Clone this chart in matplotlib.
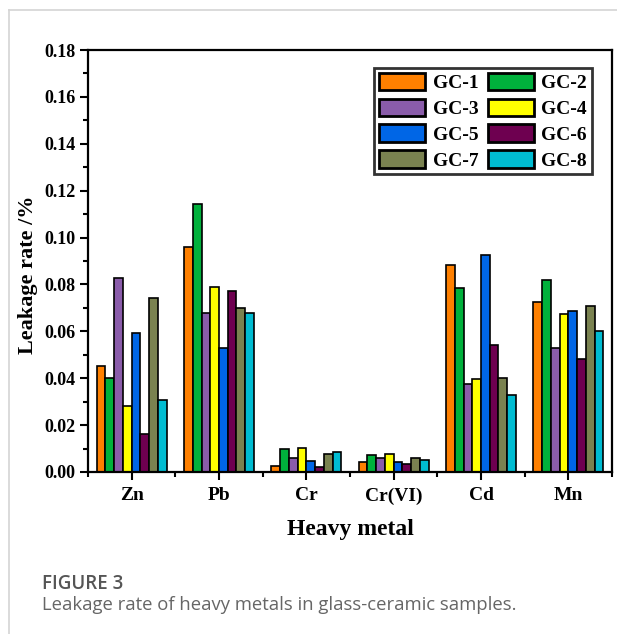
import numpy as np
import matplotlib
matplotlib.use("Agg")
import matplotlib.pyplot as plt
from matplotlib.lines import Line2D
from matplotlib.ticker import MultipleLocator, FixedLocator

categories = ["Zn", "Pb", "Cr", "Cr(VI)", "Cd", "Mn"]
series_names = ["GC-1", "GC-2", "GC-3", "GC-4", "GC-5", "GC-6", "GC-7", "GC-8"]
gc1 = [0.0452, 0.0960, 0.0026, 0.0041, 0.0882, 0.0724]
gc2 = [0.0401, 0.1141, 0.0097, 0.0073, 0.0785, 0.0818]
gc3 = [0.0828, 0.0680, 0.0060, 0.0061, 0.0377, 0.0529]
gc4 = [0.0280, 0.0790, 0.0101, 0.0078, 0.0396, 0.0672]
gc5 = [0.0593, 0.0527, 0.0049, 0.0041, 0.0926, 0.0686]
gc6 = [0.0164, 0.0774, 0.0020, 0.0036, 0.0542, 0.0484]
gc7 = [0.0743, 0.0700, 0.0078, 0.0061, 0.0401, 0.0707]
gc8 = [0.0309, 0.0680, 0.0085, 0.0051, 0.0327, 0.0603]
series = [gc1, gc2, gc3, gc4, gc5, gc6, gc7, gc8]
colors = ["#FF8000", "#00B13C", "#8A5CAA", "#FFFF00", "#0066E6", "#6E0050", "#7A8250", "#00BCD2"]

plt.rcParams['font.family'] = ['Liberation Serif', 'DejaVu Serif']
plt.rcParams['font.weight'] = 'bold'

fig = plt.figure(figsize=(6.17, 6.34), dpi=100)
ax = fig.add_axes([88/617, 1-472/634, (612-88)/617, (472-50)/634])

x = np.arange(len(categories))
w = 0.1
handles = []
for i, (vals, c, name) in enumerate(zip(series, colors, series_names)):
    b = ax.bar(x + (i - 3.5) * w, vals, width=w, color=c, edgecolor='black',
               linewidth=1.2, label=name, zorder=2)
    handles.append(b)

ax.set_xlim(-0.5, 5.5)
ax.set_ylim(0, 0.18)
ax.set_xticks(x)
ax.set_xticklabels(categories, fontsize=14, fontweight='bold')
ax.xaxis.set_minor_locator(FixedLocator(np.arange(-0.5, 5.6, 1.0)))
ax.set_yticks(np.arange(0, 0.181, 0.02))
ax.set_yticklabels([f"{v:.2f}" for v in np.arange(0, 0.181, 0.02)], fontsize=13, fontweight='bold')
ax.yaxis.set_minor_locator(MultipleLocator(0.01))
ax.tick_params(axis='both', which='major', direction='out', length=6, width=1.5, pad=3)
ax.tick_params(axis='both', which='minor', direction='out', length=3.5, width=1.5)
ax.tick_params(axis='x', which='major', pad=5)
for s in ax.spines.values():
    s.set_linewidth(1.6)

ax.set_xlabel("Heavy metal", fontsize=17, fontweight='bold')
ax.xaxis.set_label_coords(0.5, -(530 - 472) / 422, transform=ax.transAxes)
ax.xaxis.label.set_va('center')
ax.set_ylabel("Leakage rate /%", fontsize=16, fontweight='bold')
ax.yaxis.set_label_coords((28 - 88) / 524, (472 - 275) / 422)
ax.yaxis.label.set_va('center')

order = [0, 2, 4, 6, 1, 3, 5, 7]
leg = ax.legend([handles[k] for k in order], [series_names[k] for k in order],
                ncol=2, loc='upper right', bbox_to_anchor=((592 - 88) / 524, (472 - 68) / 422),
                fontsize=14, frameon=True, fancybox=False, edgecolor='black',
                handlelength=2.35, handleheight=1.0, handletextpad=0.4,
                columnspacing=0.5, labelspacing=0.33, borderpad=0.25,
                borderaxespad=0)
leg.get_frame().set_linewidth(2.0)
for p in leg.get_patches():
    p.set_linewidth(2.0)

# figure frame lines
fig.add_artist(Line2D([9/617, 1.0], [1-10/634, 1-10/634], color='#d4d4d4', lw=1.2))
fig.add_artist(Line2D([9/617, 9/617], [0, 1-10/634], color='#d4d4d4', lw=1.2))

fig.text(42/617, 1-584/634, "FIGURE 3", fontsize=13.5, family=['Open Sans', 'DejaVu Sans'],
         fontweight='semibold', color='#555555', va='center', ha='left')
fig.text(42/617, 1-605/634, "Leakage rate of heavy metals in glass-ceramic samples.",
         fontsize=13.3, family=['Open Sans', 'DejaVu Sans'], fontweight='normal',
         color='#666666', va='center', ha='left')

fig.savefig("out.png", dpi=100)
